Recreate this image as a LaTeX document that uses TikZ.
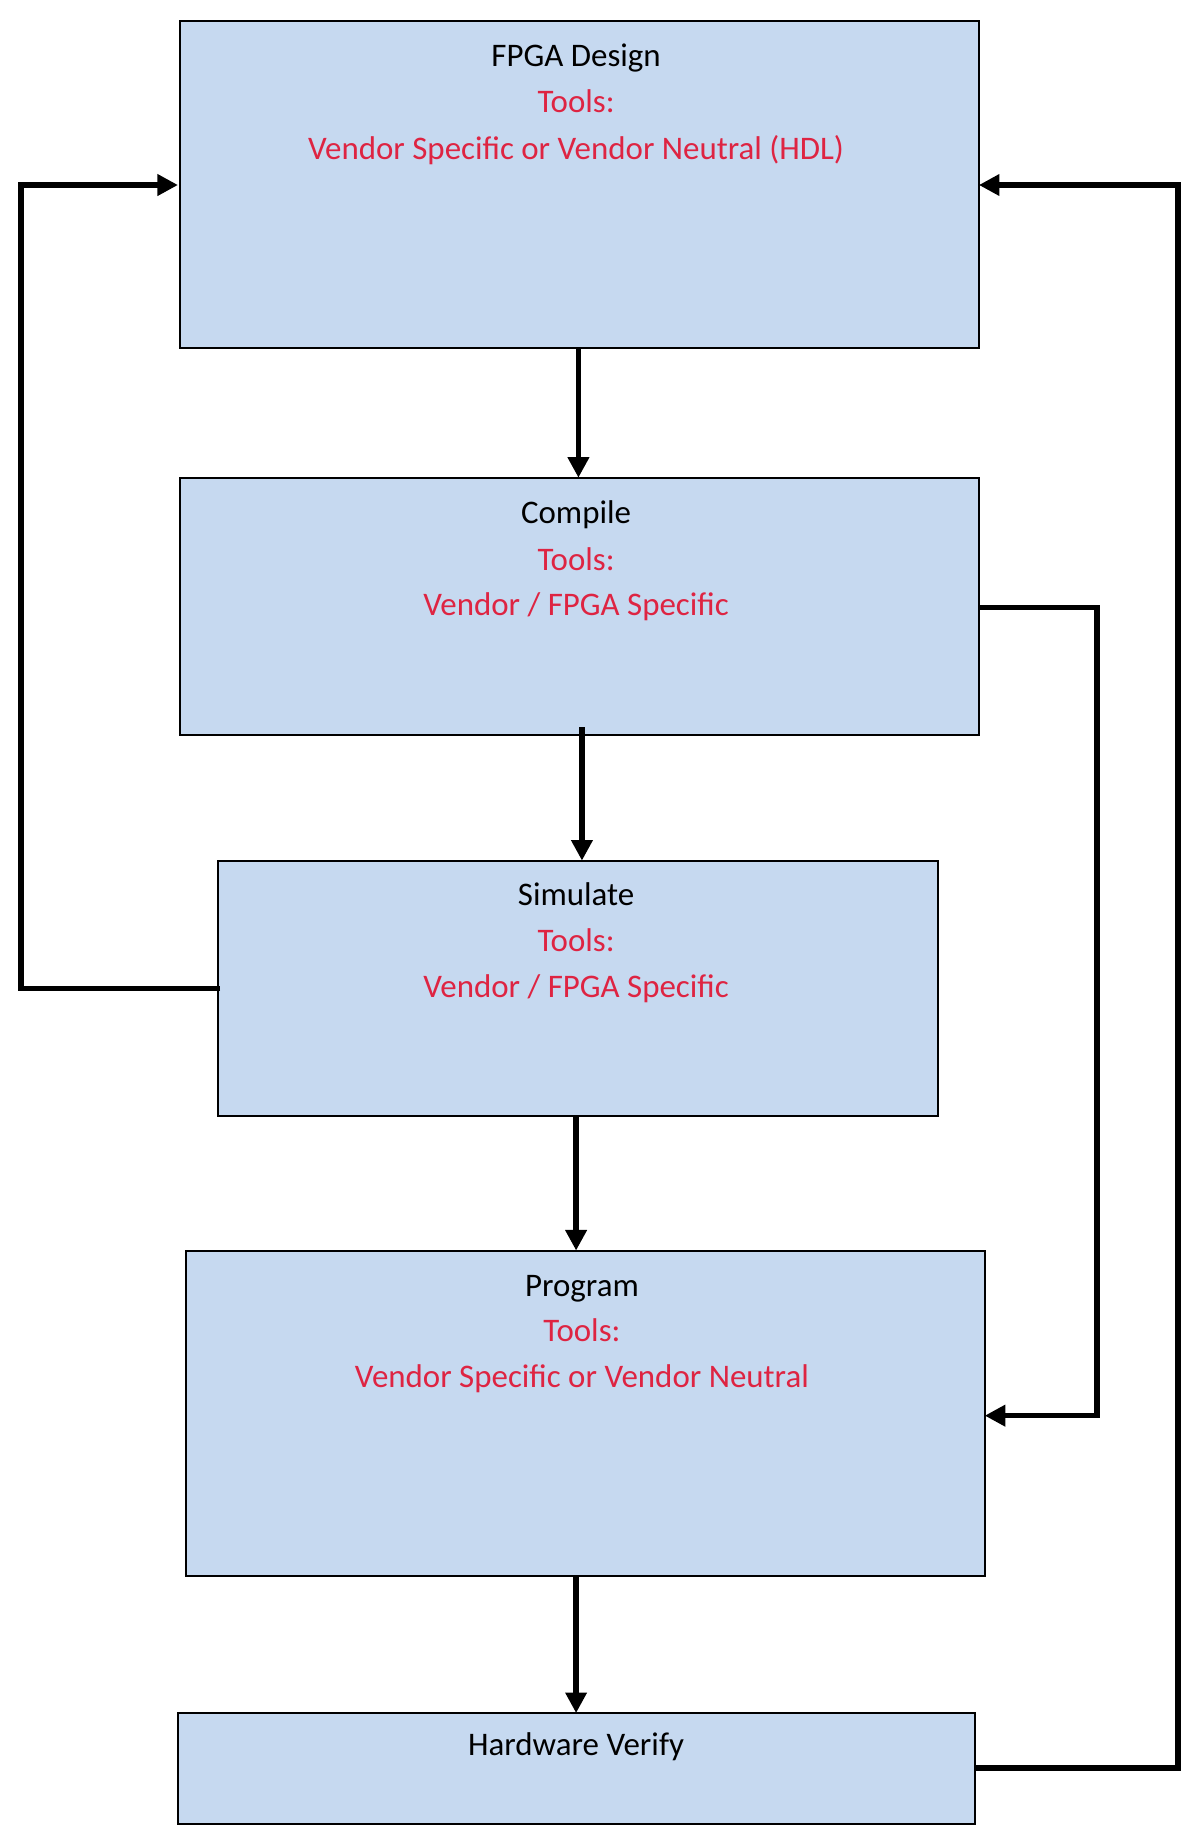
\documentclass[tikz,border=0pt]{standalone}
\usepackage{fontspec}
\setmainfont{Carlito}
\usetikzlibrary{arrows.meta}
\definecolor{boxfill}{RGB}{198,217,240}
\definecolor{tred}{RGB}{222,36,66}
\begin{document}
\begin{tikzpicture}[x=0.02cm,y=-0.02cm,
  blk/.style={draw=black,line width=1pt,fill=boxfill},
  lbl/.style={font=\fontsize{16}{19}\selectfont,inner sep=0pt,anchor=base},
  red/.style={lbl,text=tred},
  conn/.style={line width=2.6pt,-{Triangle[length=10pt,width=10pt]}}]
\useasboundingbox (0,0) rectangle (1024,1568);
\draw[blk] (154,18) rectangle (836,297);
\draw[blk] (154,408) rectangle (836,628);
\draw[blk] (186,735) rectangle (801,953);
\draw[blk] (159,1068) rectangle (841,1346);
\draw[blk] (152,1463) rectangle (833,1558);
\node[lbl] (t1) at (492,57) {FPGA Design};
\node[red] (t1b) at (492,96) {Tools:};
\node[red] (t1c) at (492,136) {Vendor Specific or Vendor Neutral (HDL)};
\node[lbl] (t2) at (492,447) {Compile};
\node[red] (t2b) at (492,487) {Tools:};
\node[red] (t2c) at (492,526) {Vendor / FPGA Specific};
\node[lbl] (t3) at (492,773) {Simulate};
\node[red] (t3b) at (492,813) {Tools:};
\node[red] (t3c) at (492,852) {Vendor / FPGA Specific};
\node[lbl] (t4) at (497,1107) {Program};
\node[red] (t4b) at (497,1146) {Tools:};
\node[red] (t4c) at (497,1185) {Vendor Specific or Vendor Neutral};
\node[lbl] (t5) at (492,1499) {Hardware Verify};
\coordinate (a1) at (494,297); \coordinate (a2) at (494,408);
\coordinate (b1) at (497,621); \coordinate (b2) at (497,735);
\coordinate (c1) at (492,953); \coordinate (c2) at (492,1068);
\coordinate (d1) at (492,1346); \coordinate (d2) at (492,1463);
\draw[conn] (a1) -- (a2);
\draw[conn] (b1) -- (b2);
\draw[conn] (c1) -- (c2);
\draw[conn] (d1) -- (d2);
\coordinate (s) at (188,844); \coordinate (dl) at (152,158);
\draw[conn] (s) -- (18,844) -- (18,158) -- (dl);
\coordinate (cr) at (836,519); \coordinate (pr) at (841,1209);
\draw[conn] (cr) -- (937,519) -- (937,1209) -- (pr);
\coordinate (hr) at (833,1510); \coordinate (drr) at (836,158);
\draw[conn] (hr) -- (1006,1510) -- (1006,158) -- (drr);
\end{tikzpicture}
\end{document}
